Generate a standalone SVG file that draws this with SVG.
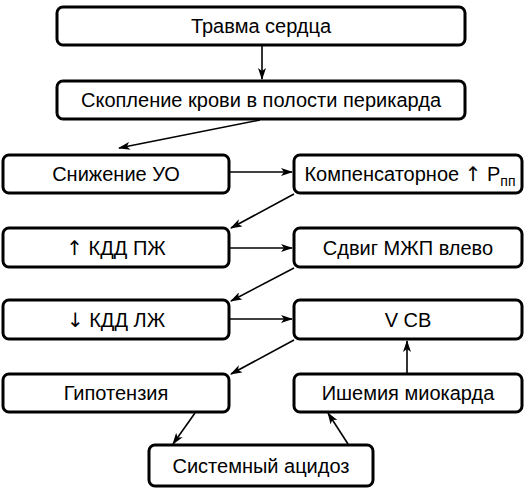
<svg xmlns="http://www.w3.org/2000/svg" width="531" height="491" viewBox="0 0 531 491">
<defs>
<marker id="ah" viewBox="0 0 12 8" refX="11" refY="4" markerWidth="12" markerHeight="8" markerUnits="userSpaceOnUse" orient="auto">
<path d="M0,0 L12,4 L0,8 L3,4 Z" fill="#000"/>
</marker>
</defs>
<style>
.box{fill:#fff;stroke:#000;stroke-width:3}
.t{font-family:"Liberation Sans",Arial,sans-serif;font-size:20px;fill:#000;text-anchor:middle}
.ar{font-family:"DejaVu Sans",sans-serif;font-weight:normal}
.c{stroke:#000;stroke-width:1.6;fill:none;marker-end:url(#ah)}
</style>
<rect width="531" height="491" fill="#fff"/>
<g id="n1"><rect class="box" x="57" y="7" width="408" height="38" rx="6"/><text class="t" x="261" y="33">Травма сердца</text></g>
<g id="n2"><rect class="box" x="57" y="81" width="408" height="38" rx="6"/><text class="t" x="261" y="107">Скопление крови в полости перикарда</text></g>
<g id="n3"><rect class="box" x="3" y="155" width="226" height="38" rx="6"/><text class="t" x="116" y="181">Снижение УО</text></g>
<g id="n4"><rect class="box" x="294" y="155" width="228" height="38" rx="6"/><text class="t" x="410" y="181">Компенсаторное <tspan class="ar">↑</tspan> P<tspan font-size="14" dy="5">пп</tspan></text></g>
<g id="n5"><rect class="box" x="3" y="228" width="226" height="39" rx="6"/><text class="t" x="116" y="255"><tspan class="ar">↑</tspan> КДД ПЖ</text></g>
<g id="n6"><rect class="box" x="294" y="228" width="228" height="39" rx="6"/><text class="t" x="408" y="255">Сдвиг МЖП влево</text></g>
<g id="n7"><rect class="box" x="3" y="300" width="226" height="39" rx="6"/><text class="t" x="116" y="327"><tspan class="ar">↓</tspan> КДД ЛЖ</text></g>
<g id="n8"><rect class="box" x="294" y="300" width="228" height="39" rx="6"/><text class="t" x="408" y="327">V СВ</text></g>
<g id="n9"><rect class="box" x="3" y="374" width="226" height="38" rx="6"/><text class="t" x="116" y="400">Гипотензия</text></g>
<g id="n10"><rect class="box" x="294" y="374" width="228" height="38" rx="6"/><text class="t" x="408" y="400">Ишемия миокарда</text></g>
<g id="n11"><rect class="box" x="149" y="445" width="224" height="41" rx="6"/><text class="t" x="261" y="473">Системный ацидоз</text></g>
<g id="connectors">
<line class="c" x1="262" y1="46" x2="262" y2="79"/>
<line class="c" x1="260" y1="120" x2="119" y2="148"/>
<line class="c" x1="230" y1="172" x2="292" y2="172"/>
<line class="c" x1="294" y1="194" x2="231" y2="228"/>
<line class="c" x1="230" y1="248" x2="292" y2="248"/>
<line class="c" x1="294" y1="268" x2="231" y2="301"/>
<line class="c" x1="230" y1="319" x2="292" y2="319"/>
<line class="c" x1="294" y1="340" x2="231" y2="374"/>
<line class="c" x1="407" y1="373" x2="407" y2="341"/>
<line class="c" x1="195" y1="413" x2="173" y2="444"/>
<line class="c" x1="348" y1="444" x2="328" y2="413"/>
</g>
</svg>
